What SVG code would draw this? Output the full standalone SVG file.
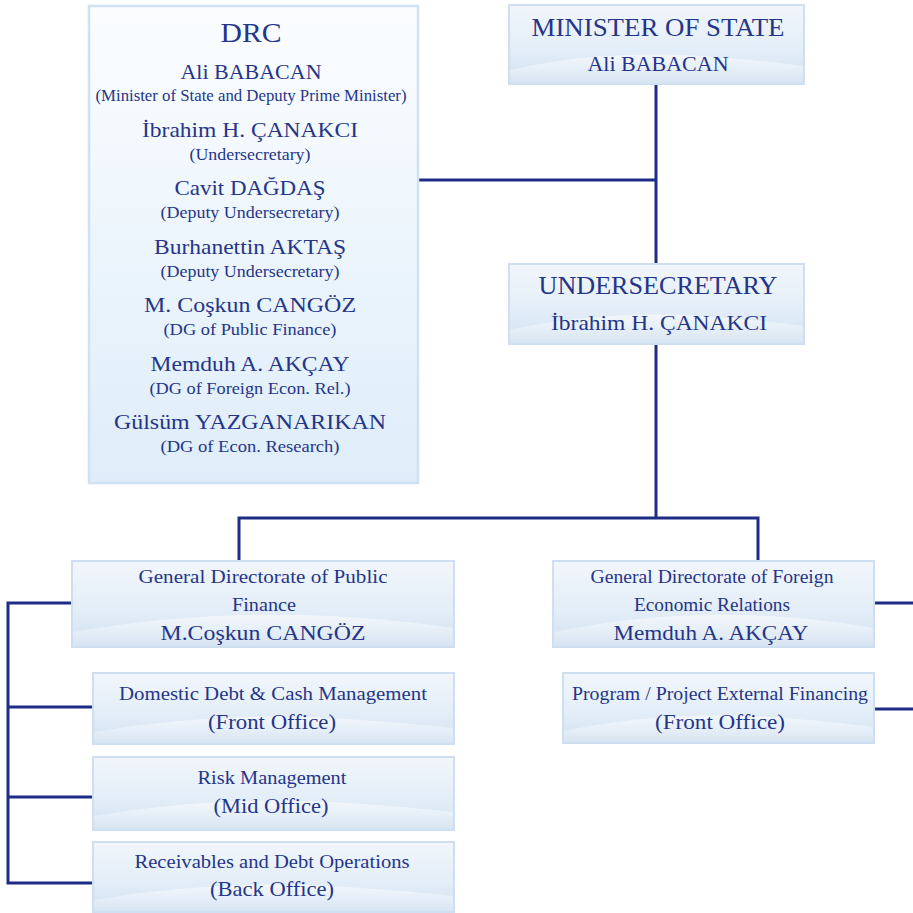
<svg xmlns="http://www.w3.org/2000/svg" width="913" height="913" viewBox="0 0 913 913">
<defs>
<linearGradient id="gBox" x1="0" y1="0" x2="0" y2="1">
<stop offset="0" stop-color="#f1f6fb"/>
<stop offset="0.55" stop-color="#e4eef8"/>
<stop offset="1" stop-color="#d2e1f0"/>
</linearGradient>
<linearGradient id="gDrc" x1="0" y1="0" x2="0" y2="1">
<stop offset="0" stop-color="#fbfdff"/>
<stop offset="1" stop-color="#deedf9"/>
</linearGradient>
<linearGradient id="gWave" x1="0" y1="0" x2="0" y2="1">
<stop offset="0" stop-color="#ffffff" stop-opacity="0.55"/>
<stop offset="1" stop-color="#ffffff" stop-opacity="0.1"/>
</linearGradient>
</defs>
<style>
.box{fill:url(#gBox);stroke:#cddff0;stroke-width:2}
.drc{fill:url(#gDrc);stroke:#cfe1f2;stroke-width:2.5}
.wave{fill:url(#gWave)}
text{font-family:"Liberation Serif","Times New Roman",serif;fill:#253589;text-anchor:middle}
.t1{font-size:28px}
.t2{font-size:22px}
.t3{font-size:16px}
.t4{font-size:18px}
.t5{font-size:22px}
.th{font-size:26px}
.conn{stroke:#1e2c86;stroke-width:3;fill:none}
</style>
<rect width="913" height="913" fill="#ffffff"/>
<g id="connectors">
<path class="conn" d="M656 84 V264"/>
<path class="conn" d="M418 180 H656"/>
<path class="conn" d="M656 344 V518"/>
<path class="conn" d="M239 561 V518 H758 V561"/>
<path class="conn" d="M71 603 H8 V883 H93"/>
<path class="conn" d="M8 707 H93"/>
<path class="conn" d="M8 797 H93"/>
<path class="conn" d="M874 603 H913"/>
<path class="conn" d="M874 709 H913"/>
</g>
<g id="drc">
<rect class="drc" x="89" y="6" width="329" height="477"/>
<text class="t1" x="251" y="42" textLength="61" lengthAdjust="spacingAndGlyphs">DRC</text>
<text class="t2" x="251" y="79" textLength="141" lengthAdjust="spacingAndGlyphs">Ali BABACAN</text>
<text class="t3" x="251" y="101" textLength="311" lengthAdjust="spacingAndGlyphs">(Minister of State and Deputy Prime Minister)</text>
<text class="t2" x="250" y="137" textLength="216" lengthAdjust="spacingAndGlyphs">İbrahim H. ÇANAKCI</text>
<text class="t3" x="250" y="160" textLength="121" lengthAdjust="spacingAndGlyphs">(Undersecretary)</text>
<text class="t2" x="250" y="195" textLength="151" lengthAdjust="spacingAndGlyphs">Cavit DAĞDAŞ</text>
<text class="t3" x="250" y="218" textLength="179" lengthAdjust="spacingAndGlyphs">(Deputy Undersecretary)</text>
<text class="t2" x="250" y="254" textLength="192" lengthAdjust="spacingAndGlyphs">Burhanettin AKTAŞ</text>
<text class="t3" x="250" y="277" textLength="179" lengthAdjust="spacingAndGlyphs">(Deputy Undersecretary)</text>
<text class="t2" x="250" y="312" textLength="212" lengthAdjust="spacingAndGlyphs">M. Coşkun CANGÖZ</text>
<text class="t3" x="250" y="335" textLength="173" lengthAdjust="spacingAndGlyphs">(DG of Public Finance)</text>
<text class="t2" x="250" y="371" textLength="199" lengthAdjust="spacingAndGlyphs">Memduh A. AKÇAY</text>
<text class="t3" x="250" y="394" textLength="201" lengthAdjust="spacingAndGlyphs">(DG of Foreign Econ. Rel.)</text>
<text class="t2" x="250" y="429" textLength="272" lengthAdjust="spacingAndGlyphs">Gülsüm YAZGANARIKAN</text>
<text class="t3" x="250" y="452" textLength="179" lengthAdjust="spacingAndGlyphs">(DG of Econ. Research)</text>
</g>
<g id="minister">
<rect class="box" x="509" y="5" width="295" height="79"/>
<path class="wave" d="M510 70 Q600 50 700 56 Q760 60 803 66 V83 H510Z"/>
<text class="th" x="658" y="36" textLength="253" lengthAdjust="spacingAndGlyphs">MINISTER OF STATE</text>
<text class="t2" x="658" y="71" textLength="141" lengthAdjust="spacingAndGlyphs">Ali BABACAN</text>
</g>
<g id="undersecretary">
<rect class="box" x="509" y="264" width="295" height="80"/>
<path class="wave" d="M510 330 Q600 310 700 316 Q760 320 803 326 V343 H510Z"/>
<text class="th" x="658" y="294" textLength="239" lengthAdjust="spacingAndGlyphs">UNDERSECRETARY</text>
<text class="t2" x="659" y="330" textLength="216" lengthAdjust="spacingAndGlyphs">İbrahim H. ÇANAKCI</text>
</g>
<g id="gdpf">
<rect class="box" x="72" y="561" width="382" height="86"/>
<path class="wave" d="M73 632 Q200 610 330 616 Q400 620 453 628 V646 H73Z"/>
<text class="t4" x="263" y="583" textLength="249" lengthAdjust="spacingAndGlyphs">General Directorate of Public</text>
<text class="t4" x="264" y="611" textLength="64" lengthAdjust="spacingAndGlyphs">Finance</text>
<text class="t5" x="263" y="640" textLength="205" lengthAdjust="spacingAndGlyphs">M.Coşkun CANGÖZ</text>
</g>
<g id="gdfer">
<rect class="box" x="553" y="561" width="321" height="86"/>
<path class="wave" d="M554 632 Q660 610 770 616 Q830 620 873 628 V646 H554Z"/>
<text class="t4" x="712" y="583" textLength="243" lengthAdjust="spacingAndGlyphs">General Directorate of Foreign</text>
<text class="t4" x="712" y="611" textLength="156" lengthAdjust="spacingAndGlyphs">Economic Relations</text>
<text class="t5" x="711" y="640" textLength="195" lengthAdjust="spacingAndGlyphs">Memduh A. AKÇAY</text>
</g>
<g id="domestic">
<rect class="box" x="93" y="673" width="361" height="71"/>
<path class="wave" d="M94 732 Q210 712 330 718 Q400 722 453 728 V743 H94Z"/>
<text class="t4" x="273" y="700" textLength="308" lengthAdjust="spacingAndGlyphs">Domestic Debt &amp; Cash Management</text>
<text class="t5" x="272" y="729" textLength="128" lengthAdjust="spacingAndGlyphs">(Front Office)</text>
</g>
<g id="risk">
<rect class="box" x="93" y="757" width="361" height="73"/>
<path class="wave" d="M94 816 Q210 796 330 802 Q400 806 453 812 V829 H94Z"/>
<text class="t4" x="272" y="784" textLength="149" lengthAdjust="spacingAndGlyphs">Risk Management</text>
<text class="t5" x="271" y="813" textLength="115" lengthAdjust="spacingAndGlyphs">(Mid Office)</text>
</g>
<g id="receivables">
<rect class="box" x="93" y="842" width="361" height="70"/>
<path class="wave" d="M94 900 Q210 880 330 886 Q400 890 453 896 V911 H94Z"/>
<text class="t4" x="272" y="868" textLength="275" lengthAdjust="spacingAndGlyphs">Receivables and Debt Operations</text>
<text class="t5" x="272" y="896" textLength="124" lengthAdjust="spacingAndGlyphs">(Back Office)</text>
</g>
<g id="program">
<rect class="box" x="563" y="673" width="311" height="70"/>
<path class="wave" d="M564 731 Q660 711 770 717 Q830 721 873 727 V742 H564Z"/>
<text class="t4" x="720" y="700" textLength="296" lengthAdjust="spacingAndGlyphs">Program / Project External Financing</text>
<text class="t5" x="720" y="729" textLength="130" lengthAdjust="spacingAndGlyphs">(Front Office)</text>
</g>
</svg>
